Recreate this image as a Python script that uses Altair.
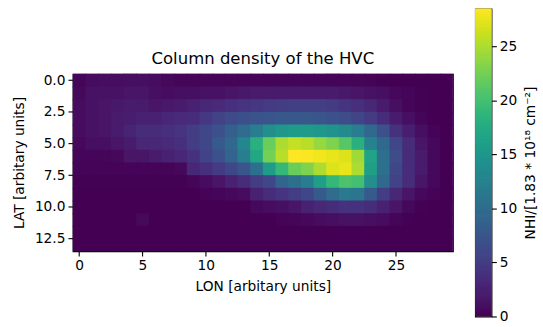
import altair as alt
import numpy as np
import pandas as pd

FONT = "DejaVu Sans"
PX = 100 / 72  # points to pixels at 100 dpi

# grid axes
lon = list(range(30))
lat = list(range(14))

# column density per latitude row (west -> east)
lat00 = [0.3, 0.8, 0.9, 0.9, 1.0, 1.0, 0.8, 0.5, 0.4, 0.3, 0.3, 0.3, 0.3, 0.3, 0.4, 0.4, 0.4, 0.4, 0.4, 0.4, 0.4, 0.3, 0.3, 0.2, 0.1, 0.0, 0.0, 0.0, 0.0, 0.0]
lat01 = [0.5, 1.2, 1.3, 1.3, 1.5, 1.5, 1.0, 0.8, 1.0, 1.0, 1.2, 1.3, 1.5, 1.8, 2.0, 2.0, 2.0, 2.0, 2.0, 2.0, 2.0, 1.8, 1.5, 1.2, 1.0, 0.5, 0.3, 0.1, 0.0, 0.0]
lat02 = [0.8, 1.3, 1.5, 1.8, 2.0, 2.0, 1.5, 1.8, 2.0, 2.5, 3.0, 3.3, 3.8, 4.2, 4.5, 4.8, 5.0, 5.2, 5.3, 5.2, 4.8, 4.3, 3.8, 3.0, 2.0, 1.0, 0.4, 0.1, 0.0, 0.0]
lat03 = [0.8, 1.2, 1.5, 2.0, 2.2, 2.5, 2.5, 3.0, 3.3, 3.5, 4.5, 5.5, 6.3, 6.8, 7.2, 7.5, 7.8, 7.8, 7.8, 7.5, 7.0, 6.5, 5.8, 4.8, 3.5, 2.0, 1.0, 0.3, 0.0, 0.0]
lat04 = [0.8, 1.2, 1.5, 2.0, 2.8, 3.5, 3.5, 3.8, 4.2, 5.0, 6.0, 7.0, 8.5, 10.0, 12.0, 14.0, 15.0, 15.5, 15.5, 15.0, 14.5, 13.5, 12.0, 9.5, 7.0, 4.0, 2.3, 1.0, 0.2, 0.0]
lat05 = [0.5, 1.0, 1.0, 1.5, 2.0, 3.0, 3.0, 3.3, 3.8, 5.0, 6.0, 8.0, 9.5, 13.0, 18.0, 22.0, 25.0, 26.0, 25.5, 24.0, 23.0, 21.0, 18.0, 12.5, 9.5, 6.0, 3.5, 1.5, 0.5, 0.0]
lat06 = [0.3, 0.3, 0.3, 0.5, 1.5, 1.5, 2.0, 2.5, 3.0, 4.0, 5.5, 7.0, 9.0, 12.0, 17.0, 22.5, 25.5, 28.5, 28.3, 28.0, 27.5, 27.0, 24.5, 16.5, 10.5, 6.5, 3.5, 2.0, 0.5, 0.0]
lat07 = [0.2, 0.2, 0.2, 0.2, 0.2, 0.2, 0.2, 0.2, 0.5, 3.0, 3.8, 4.8, 6.0, 7.5, 10.5, 15.5, 19.0, 22.0, 23.0, 25.0, 27.0, 27.5, 25.0, 16.0, 10.5, 6.0, 3.5, 2.0, 0.5, 0.0]
lat08 = [0.1, 0.1, 0.1, 0.1, 0.1, 0.1, 0.1, 0.1, 0.1, 0.3, 0.8, 1.5, 2.5, 3.5, 5.0, 6.0, 9.0, 10.5, 12.0, 16.0, 19.0, 20.5, 20.0, 14.0, 9.5, 5.5, 3.5, 1.5, 0.5, 0.0]
lat09 = [0.0, 0.0, 0.0, 0.0, 0.0, 0.0, 0.0, 0.0, 0.0, 0.0, 0.2, 0.3, 0.5, 0.8, 2.5, 3.5, 4.2, 5.0, 6.0, 8.0, 10.0, 11.5, 11.0, 8.0, 5.0, 3.0, 1.5, 0.5, 0.2, 0.0]
lat10 = [0.0, 0.0, 0.0, 0.0, 0.0, 0.0, 0.0, 0.0, 0.0, 0.0, 0.0, 0.0, 0.0, 0.0, 0.5, 0.8, 1.0, 1.5, 2.5, 3.0, 3.5, 4.0, 4.0, 3.5, 2.5, 1.5, 0.5, 0.1, 0.0, 0.0]
lat11 = [0.0, 0.0, 0.0, 0.0, 0.0, 0.6, 0.0, 0.0, 0.0, 0.0, 0.0, 0.0, 0.0, 0.0, 0.0, 0.0, 0.2, 0.3, 0.5, 0.8, 1.0, 1.2, 1.2, 1.0, 0.8, 0.3, 0.1, 0.0, 0.0, 0.0]
lat12 = [0.0] * 30
lat13 = [0.0] * 30

grid = [lat00, lat01, lat02, lat03, lat04, lat05, lat06,
        lat07, lat08, lat09, lat10, lat11, lat12, lat13]

x_ticks = [0, 5, 10, 15, 20, 25]
y_ticks = [0.0, 2.5, 5.0, 7.5, 10.0, 12.5]
cbar_ticks = [0, 5, 10, 15, 20, 25]

# each pixel spans +-0.5 around its index; a small overlap hides anti-aliasing seams
half, seam = 0.5, 0.1
records = []
for j, row in enumerate(grid):
    for i, v in enumerate(row):
        records.append({"lon": lon[i], "lat": lat[j], "nhi": v})
cells = pd.DataFrame(records)
cells["lon0"] = cells["lon"] - half
cells["lon1"] = np.minimum(cells["lon"] + half + seam, lon[-1] + half)
cells["lat0"] = cells["lat"] - half
cells["lat1"] = np.minimum(cells["lat"] + half + seam, lat[-1] + half)

vmin = float(cells["nhi"].min())
vmax = float(cells["nhi"].max())
cmap = alt.Scale(scheme="viridis", domain=[vmin, vmax])

heat = alt.Chart(cells).mark_rect().encode(
    x=alt.X("lon0:Q",
            scale=alt.Scale(domain=[lon[0] - half, lon[-1] + half], nice=False, zero=False),
            axis=alt.Axis(values=x_ticks, format="d", title="LON [arbitary units]",
                          titlePadding=7)),
    x2="lon1:Q",
    y=alt.Y("lat0:Q",
            scale=alt.Scale(domain=[lat[0] - half, lat[-1] + half], nice=False, zero=False, reverse=True),
            axis=alt.Axis(values=y_ticks, format=".1f", title="LAT [arbitary units]",
                          titlePadding=8)),
    y2="lat1:Q",
    color=alt.Color("nhi:Q", scale=cmap, legend=None),
).properties(
    width=384, height=179.2,
    title=alt.TitleParams("Column density of the HVC", font=FONT, fontSize=12 * PX,
                          fontWeight="normal", color="black", offset=6),
)

# colour bar drawn as a stack of thin strips on its own axis
n_strips = 300
strip = (vmax - vmin) / n_strips
ramp = pd.DataFrame({"lo": [vmin + k * strip for k in range(n_strips)]})
ramp["hi"] = np.minimum(ramp["lo"] + 1.8 * strip, vmax)
ramp["mid"] = ramp["lo"] + strip / 2

cbar = alt.Chart(ramp).mark_rect().encode(
    x=alt.value(0), x2=alt.value(16.6),
    y=alt.Y("lo:Q", scale=alt.Scale(domain=[vmin, vmax], nice=False, zero=False),
            axis=alt.Axis(orient="right", values=cbar_ticks, format="d",
                          title="NHI/[1.83 * 10¹⁸ cm⁻²]", titleAngle=270,
                          titleBaseline="top", titlePadding=7)),
    y2="hi:Q",
    color=alt.Color("mid:Q", scale=cmap, legend=None),
).properties(width=16.6, height=311)

chart = alt.hconcat(
    heat, cbar, spacing=22.4, bounds="flush", center=True
).resolve_scale(
    color="independent"
).properties(
    padding={"left": 11.5, "top": 6, "right": 5, "bottom": 5},
    background="white",
).configure_view(
    stroke="black", strokeWidth=0.8 * PX,
).configure_axis(
    labelFont=FONT, labelFontSize=10 * PX, labelColor="black",
    titleFont=FONT, titleFontSize=10 * PX, titleColor="black", titleFontWeight="normal",
    tickColor="black", tickWidth=0.8 * PX, tickSize=3.5 * PX,
    labelPadding=3, titlePadding=5, domain=False, grid=False,
)

chart.save("out.html", embed_options={"renderer": "svg", "actions": False})
